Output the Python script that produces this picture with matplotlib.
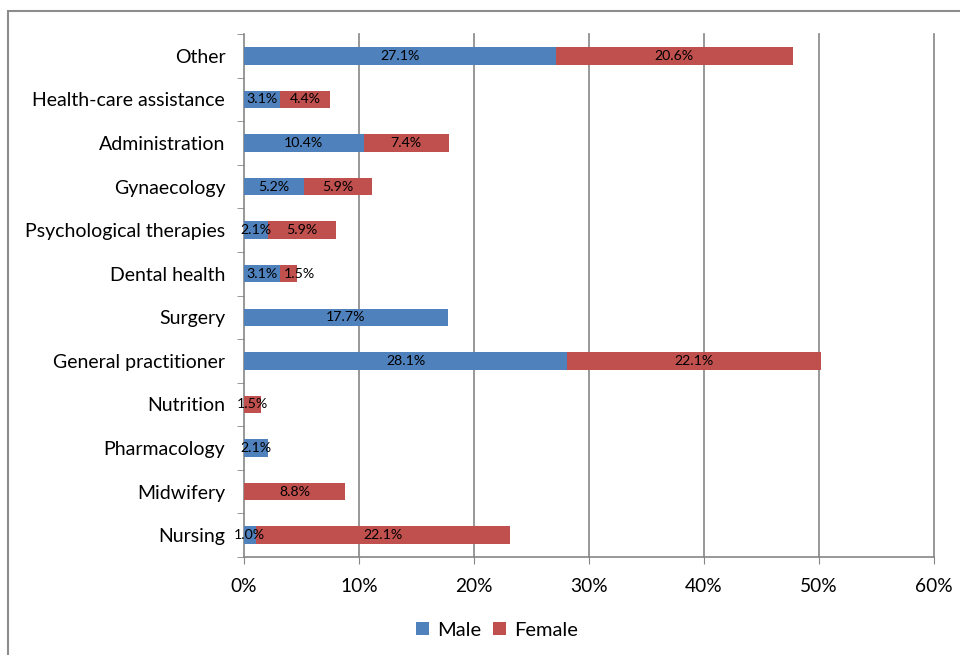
import matplotlib
matplotlib.use("Agg")
import matplotlib.pyplot as plt
from matplotlib.patches import Rectangle
from matplotlib.transforms import offset_copy

plt.rcParams['font.family'] = ['Lato', 'DejaVu Sans']

categories = ["Nursing", "Midwifery", "Pharmacology", "Nutrition",
              "General practitioner", "Surgery", "Dental health",
              "Psychological therapies", "Gynaecology", "Administration",
              "Health-care assistance", "Other"]
male = [1.0, 0.0, 2.1, 0.0, 28.1, 17.7, 3.1, 2.1, 5.2, 10.4, 3.1, 27.1]
female = [22.1, 8.8, 0.0, 1.5, 22.1, 0.0, 1.5, 5.9, 5.9, 7.4, 4.4, 20.6]
xticks = [0, 10, 20, 30, 40, 50, 60]

male_color = "#4F81BD"
female_color = "#C0504D"
grid_color = "#868686"

fig = plt.figure(figsize=(9.6, 6.55), dpi=100)
ax = fig.add_axes([244 / 960, 1 - 557 / 655, 690 / 960, 523 / 655])

y = list(range(len(categories)))
bh = 0.4
bm = ax.barh(y, male, height=bh, color=male_color, label="Male", zorder=3)
bf = ax.barh(y, female, left=male, height=bh, color=female_color,
             label="Female", zorder=3)

label_pairs = []
for i in y:
    tm = tf = None
    if male[i] > 0:
        tm = ax.text(male[i] / 2, i, f"{male[i]:.1f}%", ha="center",
                     va="center", fontsize=10.2, color="black", zorder=4)
    if female[i] > 0:
        tf = ax.text(male[i] + female[i] / 2, i, f"{female[i]:.1f}%",
                     ha="center", va="center", fontsize=10.2, color="black",
                     zorder=4)
    label_pairs.append((tm, tf))

ax.set_xlim(0, 60)
ax.set_ylim(-0.5, len(categories) - 0.5)
ax.set_xticks(xticks)
ax.set_xticklabels([f"{v}%" for v in xticks], fontsize=13.8)
ax.set_yticks(y)
ax.set_yticklabels(categories, fontsize=14)
ax.tick_params(axis="y", length=0, pad=13.5)
ax.tick_params(axis="x", length=5, color=grid_color, pad=10)

# category boundary ticks on the value axis
ax.set_yticks([i - 0.5 for i in range(len(categories) + 1)], minor=True)
ax.tick_params(axis="y", which="minor", length=5, color=grid_color)

for v in xticks[1:]:
    ax.axvline(v, color=grid_color, linewidth=1.2, zorder=0, clip_on=False)
for side in ["top", "right"]:
    ax.spines[side].set_visible(False)
for side in ["left", "bottom"]:
    ax.spines[side].set_color(grid_color)
    ax.spines[side].set_linewidth(1.2)

# nudge a female label to the right when it collides with the male label
fig.canvas.draw()
renderer = fig.canvas.get_renderer()
for tm, tf in label_pairs:
    if tm is None or tf is None:
        continue
    bm_box = tm.get_window_extent(renderer)
    bf_box = tf.get_window_extent(renderer)
    overlap = bm_box.x1 - bf_box.x0
    if overlap > -6:
        shift = overlap + 6
        tf.set_transform(offset_copy(tf.get_transform(), fig=fig,
                                     x=shift * 72 / fig.dpi, units="points"))

leg = fig.legend(handles=[bm, bf], labels=["Male", "Female"],
                 loc="center", bbox_to_anchor=(497 / 960, 1 - 630 / 655),
                 ncol=2, frameon=False, fontsize=14.5, handlelength=0.65,
                 handleheight=0.65, handletextpad=0.4, columnspacing=0.6)

# outer chart frame
fig.patches.append(Rectangle((8 / 960, -0.1), 1.1, 1 - 11 / 655 + 0.1,
                             transform=fig.transFigure, fill=False,
                             edgecolor="#8C8C8C", linewidth=1.5))

fig.savefig("out.png", dpi=100)
